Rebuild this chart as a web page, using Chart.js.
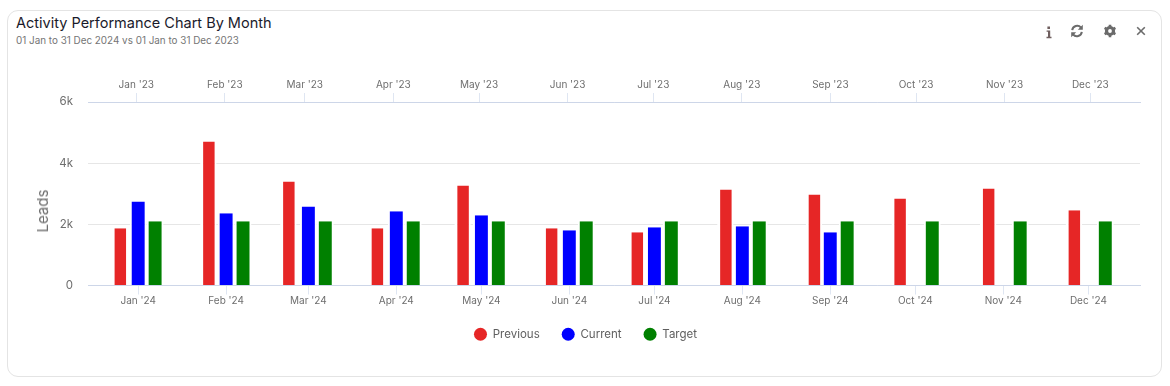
<!DOCTYPE html>
<html>
<head>
<meta charset="utf-8">
<title>Activity Performance Chart By Month</title>
<script src="https://cdn.jsdelivr.net/npm/chart.js@4/dist/chart.umd.min.js"></script>
<style>
  html, body { margin: 0; padding: 0; background: #fff; }
  body { width: 1170px; height: 386px; position: relative; overflow: hidden; font-family: Inter, sans-serif; }
  .card { position: absolute; left: 7px; top: 10px; width: 1153px; height: 365px; border: 1px solid #e4e4e4; border-radius: 11px; }
  .title { position: absolute; left: 16px; top: 14px; font-size: 14.5px; line-height: 18px; color: #1a1a2b; white-space: nowrap; }
  .subtitle { position: absolute; left: 16px; top: 33px; font-size: 9.9px; line-height: 14px; color: #757575; white-space: nowrap; }
  .y-title { position: absolute; left: 43px; top: 211px; transform: translate(-50%, -50%) rotate(-90deg); font-size: 15px; line-height: 18px; color: #6e6e6e; }
  canvas { position: absolute; left: 0; top: 0; }
  .icon { position: absolute; top: 24px; width: 16px; height: 16px; }
</style>
</head>
<body>
<div class="card"></div>
<div class="title">Activity Performance Chart By Month</div>
<div class="subtitle">01 Jan to 31 Dec 2024 vs 01 Jan to 31 Dec 2023</div>

<svg class="icon" style="left:1041px" viewBox="0 0 16 16"><path fill="#6f5f5f" d="M6.4 2.6h2.6v2.4H6.4zM5.6 6.4h3.6v6.4h1.3v1.4H5.5v-1.4h1.5V7.8H5.6z"/></svg>
<svg class="icon" style="left:1069px;top:23px" viewBox="0 0 16 16"><g fill="none" stroke="#6b6b6b" stroke-width="2"><path d="M3.2 7.2A5 5 0 0 1 12 4.6"/><path d="M12.8 8.8A5 5 0 0 1 4 11.4"/></g><path fill="#6b6b6b" d="M13.8 1.8v5h-5zM2.2 14.2v-5h5z"/></svg>
<svg class="icon" style="left:1102px;top:23px" viewBox="0 0 16 16"><circle cx="8" cy="8" r="3.6" fill="none" stroke="#6b6b6b" stroke-width="3"/><path stroke="#6b6b6b" stroke-width="2.6" d="M8 1.8v12.4M2.6 4.9l10.8 6.2M2.6 11.1l10.8-6.2"/><circle cx="8" cy="8" r="1.9" fill="#fff"/></svg>
<svg class="icon" style="left:1133px;top:23px" viewBox="0 0 16 16"><path stroke="#6b6b6b" stroke-width="1.6" d="M4.2 4.2l7.6 7.6M11.8 4.2l-7.6 7.6"/></svg>

<canvas id="chart" width="1170" height="386"></canvas>
<div class="y-title">Leads</div>

<script>
const currentMonths = ["Jan '24", "Feb '24", "Mar '24", "Apr '24", "May '24", "Jun '24", "Jul '24", "Aug '24", "Sep '24", "Oct '24", "Nov '24", "Dec '24"];
const previousMonths = ["Jan '23", "Feb '23", "Mar '23", "Apr '23", "May '23", "Jun '23", "Jul '23", "Aug '23", "Sep '23", "Oct '23", "Nov '23", "Dec '23"];
const currentDates = ['2024-01-01', '2024-02-01', '2024-03-01', '2024-04-01', '2024-05-01', '2024-06-01', '2024-07-01', '2024-08-01', '2024-09-01', '2024-10-01', '2024-11-01', '2024-12-01'];
const previousDates = ['2023-01-01', '2023-02-01', '2023-03-01', '2023-04-01', '2023-05-01', '2023-06-01', '2023-07-01', '2023-08-01', '2023-09-01', '2023-10-01', '2023-11-01', '2023-12-01'];
const previousValues = [1870, 4707, 3402, 1870, 3272, 1870, 1739, 3141, 2978, 2848, 3174, 2457];
const currentValues = [2750, 2359, 2587, 2424, 2294, 1804, 1902, 1935, 1739, null, null, null];
const targetValues = [2100, 2100, 2100, 2100, 2100, 2100, 2100, 2100, 2100, 2100, 2100, 2100];
const yTicks = [0, 2000, 4000, 6000];

const DAY = 86400000;
const textColor = '#6e6e6e';
const tickFont = { family: 'Inter', size: 10 };

const stamps = (dates) => dates.map(d => Date.parse(d));
const points = (dates, values) => stamps(dates).map((x, i) => ({ x: x, y: values[i] }));

const barStyle = {
  borderColor: '#ffffff',
  borderWidth: { left: 2, right: 2, top: 0, bottom: 0 },
  borderSkipped: false,
  barPercentage: 1,
  categoryPercentage: 0.617,
};

const monthAxis = (position, dates, labels, padBefore, padAfter, height, labelPadding) => {
  const values = stamps(dates);
  return {
    type: 'linear',
    position: position,
    offset: false,
    min: values[0] - padBefore * DAY,
    max: values[values.length - 1] + padAfter * DAY,
    afterBuildTicks: (scale) => { scale.ticks = values.map(v => ({ value: v })); },
    afterFit: (scale) => { scale.height = height; },
    grid: { offset: false, drawOnChartArea: false, drawTicks: true, tickLength: 9, tickColor: '#dfe6f2' },
    border: { display: true, color: '#cdd6e8', width: 1 },
    ticks: {
      autoSkip: false,
      maxRotation: 0,
      padding: labelPadding,
      color: textColor,
      font: tickFont,
      callback: (value, index) => labels[index],
    },
  };
};

new Chart(document.getElementById('chart'), {
  type: 'bar',
  data: {
    // one x axis per series: Chart.js slots the bars side by side by axis
    datasets: [
      { label: 'Previous', data: points(previousDates, previousValues), xAxisID: 'x2', backgroundColor: '#e62626', ...barStyle, borderWidth: { left: 3, right: 2, top: 0, bottom: 0 } },
      { label: 'Current', data: points(currentDates, currentValues), xAxisID: 'x', backgroundColor: '#0000ff', ...barStyle },
      { label: 'Target', data: points(currentDates, targetValues), xAxisID: 'x3', backgroundColor: '#008000', ...barStyle },
    ],
  },
  options: {
    responsive: false,
    animation: false,
    layout: { padding: { top: 70, left: 31, right: 30, bottom: 36 } },
    scales: {
      x: monthAxis('bottom', currentDates, currentMonths, 17.7, 18.2, 21, 0),
      x2: monthAxis('top', previousDates, previousMonths, 16.9, 17.4, 32, 2),
      x3: { ...monthAxis('bottom', currentDates, currentMonths, 17.7, 18.2, 0, 0), display: false },
      y: {
        min: 0,
        max: 6000,
        afterBuildTicks: (scale) => { scale.ticks = yTicks.map(v => ({ value: v })); },
        afterFit: (scale) => { scale.width = 57; },
        grid: { color: '#e6e6e6', drawTicks: false },
        border: { display: false },
        ticks: {
          padding: 15,
          color: textColor,
          font: { family: 'Inter', size: 11.5 },
          callback: (value) => (value === 0 ? '0' : value / 1000 + 'k'),
        },
      },
    },
    plugins: {
      tooltip: { enabled: false },
      legend: {
        position: 'bottom',
        labels: {
          usePointStyle: true,
          pointStyle: 'circle',
          pointStyleWidth: 13,
          boxHeight: 9.2,
          padding: 22,
          color: '#5f5f5f',
          font: { family: 'Inter', size: 11.5 },
          generateLabels: (chart) => Chart.defaults.plugins.legend.labels.generateLabels(chart)
            .map(item => ({ ...item, lineWidth: 0 })),
        },
      },
    },
  },
});
</script>
</body>
</html>
